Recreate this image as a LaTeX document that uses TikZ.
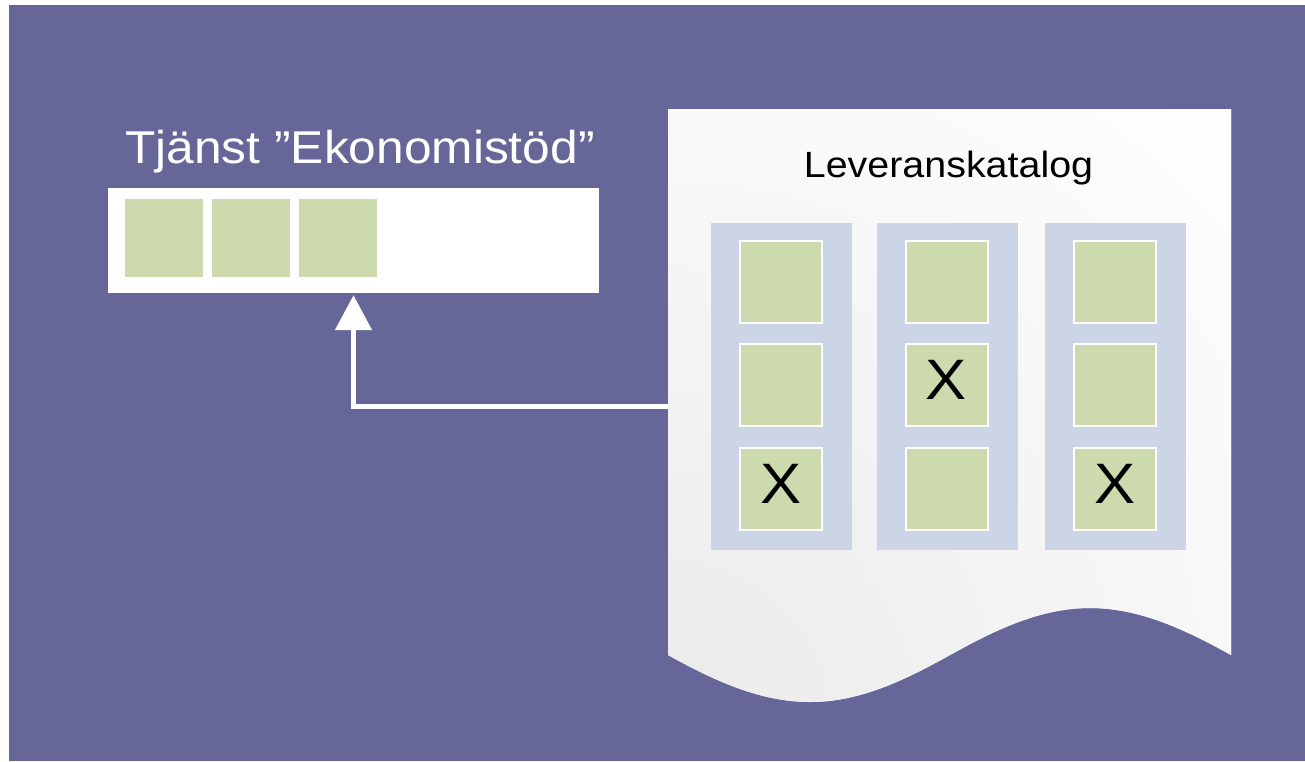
\documentclass[tikz,border=0pt]{standalone}
\usepackage{fontspec}
\setmainfont[FakeStretch=1.08]{Liberation Sans}
\usetikzlibrary{arrows.meta, positioning}
\definecolor{slidePurple}{RGB}{102, 102, 153}
\definecolor{columnBlue}{RGB}{203, 213, 230}
\definecolor{tileGreen}{RGB}{204, 218, 174}
\colorlet{paperShade}{black!8}
\tikzset{
    column/.style={fill=columnBlue, minimum width=141pt, minimum height=327pt, inner sep=0pt},
    tile/.style={fill=tileGreen, draw=white, line width=2pt, minimum size=82pt, inner sep=0pt},
    smalltile/.style={fill=tileGreen, minimum size=78pt, inner sep=0pt},
    mark x/.style={font=\fontsize{57}{60}\selectfont, text=black, inner sep=0pt},
    connector/.style={draw=white, line width=5pt, -{Triangle[width=36pt, length=35pt]}}
}
\def\paper{(668,109) -- (1231,109) -- (1231,655)
    .. controls (1186,630) and (1140,608) .. (1090,608)
    .. controls (1040,608) and (995,630) .. (950,655)
    .. controls (905,680) and (860,702) .. (810,702)
    .. controls (760,702) and (713,680) .. (668,655) -- cycle}

\begin{document}
\begin{tikzpicture}[x=1pt, y=-1pt]
        \useasboundingbox (0,0) rectangle (1305,761);

        % Draw the background
        \fill[slidePurple] (9,5) rectangle (1305,761);

        % The catalogue sheet with its shaded corner
        \fill[white] \paper;
        \begin{scope}
            \clip \paper;
            \shade[inner color=paperShade, outer color=white] (668,720) circle (850);
        \end{scope}
        \node[font=\fontsize{36.5}{40}\selectfont, anchor=base] (catalog) at (948.5,177) {Leveranskatalog};

        % Columns and their tiles
        \foreach \c/\cx/\tx in {1/781.5/781, 2/947/946.5, 3/1115/1115} {
            \node[column] (col\c) at (\cx,386.5) {};
            \foreach \r/\ry in {1/282, 2/385, 3/489}
                \node[tile] (c\c r\r) at (\tx,\ry) {};
        }
        \node[mark x] (x1) at ([yshift=5pt]c1r3) {X};
        \node[mark x] (x2) at ([yshift=5pt]c2r2) {X};
        \node[mark x] (x3) at ([yshift=5pt]c3r3) {X};

        % The service box
        \node[fill=white, minimum width=491pt, minimum height=105pt, inner sep=0pt] (svc) at (353.5,240.5) {};
        \foreach \i/\sx in {1/164, 2/251, 3/338}
            \node[smalltile] (s\i) at (\sx,238) {};
        \node[font=\fontsize{46}{50}\selectfont, text=white, anchor=base] (svctitle) at (360,163) {Tjänst ”Ekonomistöd”};

        % Arrow from the catalogue to the service
        \coordinate (docin) at (668,406);
        \draw[connector] (docin) -| ([yshift=-2pt]svc.south);
    \end{tikzpicture}
\end{document}
